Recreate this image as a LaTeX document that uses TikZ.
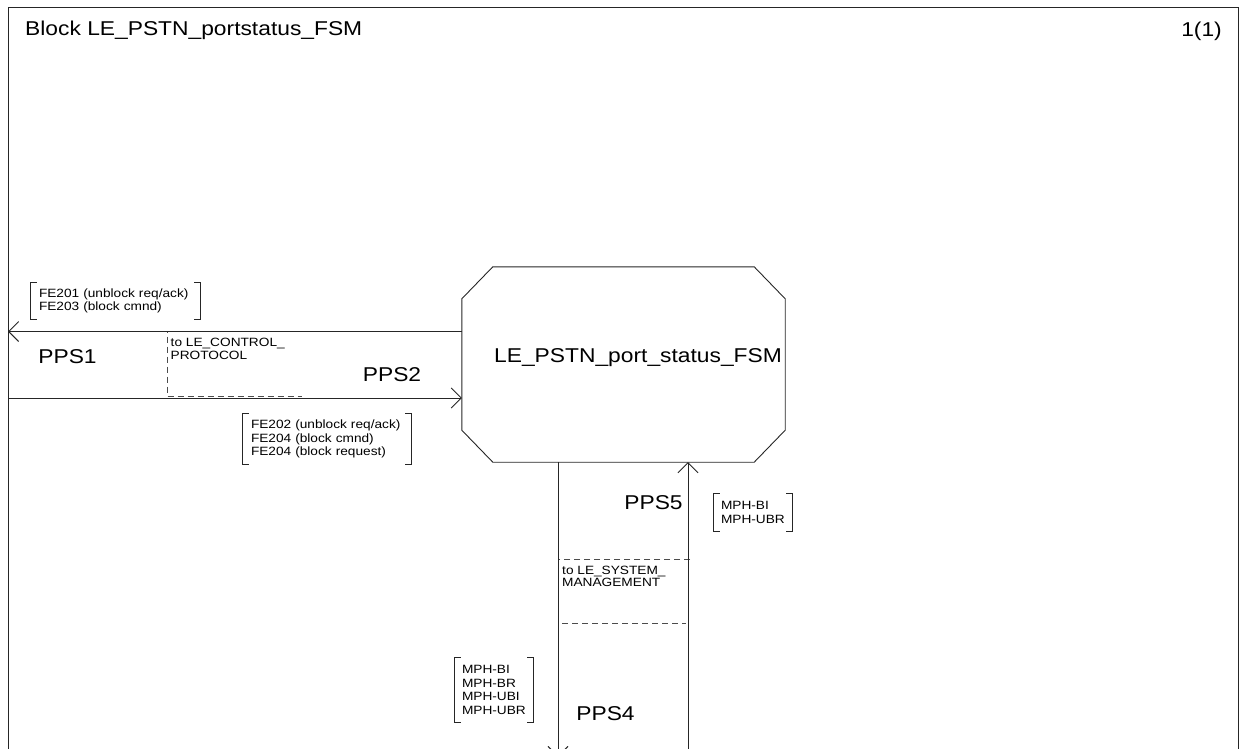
\documentclass[tikz,border=0pt]{standalone}
\usepackage{fontspec}
\setmainfont{Liberation Sans}[FakeStretch=1.14]
\usetikzlibrary{arrows.meta,calc}
\tikzset{
  ln/.style={draw=black!85, line width=0.9pt},
  arr/.style={ln, -{Straight Barb[length=10pt,width=20pt,line width=0.9pt]}},
  dsh/.style={draw=black!70, line width=0.9pt, dash pattern=on 6pt off 4pt},
  big/.style={font=\fontsize{20}{24}\selectfont, inner sep=0pt, text depth=0pt},
  cmt/.style={font=\fontsize{12}{12.5}\selectfont, align=left, inner sep=0pt, anchor=north west},
  sig/.style={font=\fontsize{12}{13.5}\selectfont, align=left, inner xsep=8pt, inner ysep=0pt},
  brk/.style={draw=black!85, line width=0.8pt},
}
\newcommand\sigbrackets[1]{%
  \draw[brk] ([xshift=6pt]#1.north west) -| (#1.south west) -- ++(6pt,0);
  \draw[brk] ([xshift=-6pt]#1.north east) -| (#1.south east) -- ++(-6pt,0);}
\begin{document}
\begin{tikzpicture}[x=1pt,y=-1pt]
\useasboundingbox (0,0) rectangle (1248,749);
% frame
\draw[ln] (8,760) -- (8,7) -- (1238,7) -- (1238,760);
\node[big, anchor=west] (title) at (25,28.5) {Block LE\_PSTN\_portstatus\_FSM};
\node[big, anchor=east] (page) at (1222,29) {1(1)};
% dashed gateway boxes (drawn first, under the channels)
\draw[dsh] (302,331.5) -- (167,331.5) -- (167,396) -- (302,396);
\draw[dsh] (690,559) -- (558,559) -- (558,623) -- (686,623);
% process (octagon)
\node[minimum width=323pt, minimum height=195pt, inner sep=0pt] (fsm) at (623.5,364.5) {};
\draw[ln] ($(fsm.north west)+(31,0)$) -- ($(fsm.north east)+(-31,0)$)
  -- ($(fsm.north east)+(0,32)$) -- ($(fsm.south east)+(0,-32)$)
  -- ($(fsm.south east)+(-31,0)$) -- ($(fsm.south west)+(31,0)$)
  -- ($(fsm.south west)+(0,-32)$) -- ($(fsm.north west)+(0,32)$) -- cycle;
\node[big] (fsmlabel) at (638,356) {LE\_PSTN\_port\_status\_FSM};
% channels
\coordinate (lin) at (8,331.5);
\coordinate (lout) at (8,398);
\coordinate (bdown) at (558,757);
\coordinate (bup) at (688,757);
\draw[arr] (fsm.west |- lin) -- (lin);
\draw[arr] (lout) -- (fsm.west |- lout);
\draw[arr] (fsm.south -| bdown) -- (bdown);
\draw[arr] (bup) -- (fsm.south -| bup);
\node[cmt] (gw1) at (170.5,338) {to LE\_CONTROL\_\\PROTOCOL};
\node[cmt] (gw2) at (562,565.5) {to LE\_SYSTEM\_\\MANAGEMENT};
% channel names
\node[big] (pps1) at (67.5,357) {PPS1};
\node[big] (pps2) at (392,375) {PPS2};
\node[big] (pps5) at (653.5,503) {PPS5};
\node[big] (pps4) at (605.5,714) {PPS4};
% signal lists
\node[sig, text width=153pt, minimum height=36pt] (s1) at (115.5,301)
  {FE201 (unblock req/ack)\\FE203 (block cmnd)};
\sigbrackets{s1}
\node[sig, text width=152pt, minimum height=50pt] (s2) at (327,439)
  {FE202 (unblock req/ack)\\FE204 (block cmnd)\\FE204 (block request)};
\sigbrackets{s2}
\node[sig, inner xsep=7pt, text width=64pt, minimum height=37pt] (s3) at (753,512.5)
  {MPH-BI\\MPH-UBR};
\sigbrackets{s3}
\node[sig, inner xsep=7pt, text width=64pt, minimum height=64pt] (s4) at (494,690)
  {MPH-BI\\MPH-BR\\MPH-UBI\\MPH-UBR};
\sigbrackets{s4}
\end{tikzpicture}
\end{document}
